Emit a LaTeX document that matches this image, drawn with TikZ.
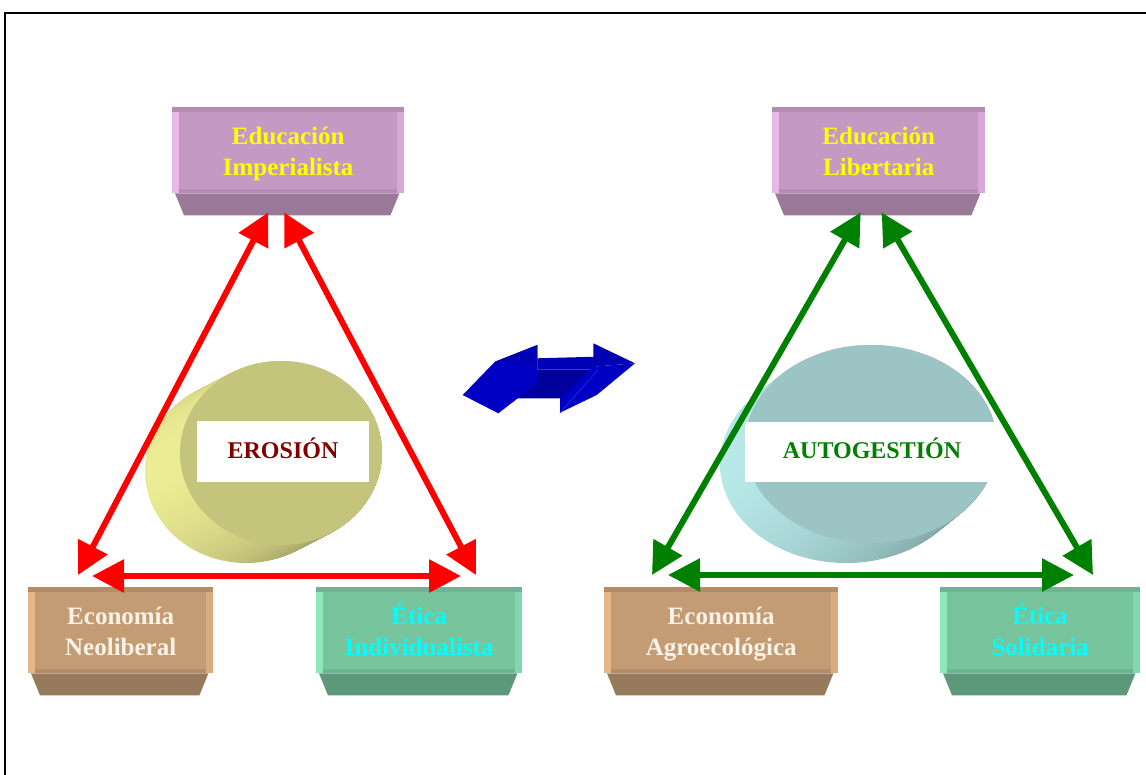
\documentclass[tikz,border=0pt]{standalone}
\usepackage{fontspec}
\setmainfont{Liberation Serif}
\usetikzlibrary{arrows.meta,calc}
\definecolor{purpF}{HTML}{C49AC4}\definecolor{purpT}{HTML}{B48CB4}
\definecolor{purpL}{HTML}{E8B8E8}\definecolor{purpR}{HTML}{D8A8D8}
\definecolor{purpB}{HTML}{9A7898}
\definecolor{brownF}{HTML}{C49C74}\definecolor{brownT}{HTML}{B48C68}
\definecolor{brownL}{HTML}{E6B888}\definecolor{brownR}{HTML}{D8AC80}
\definecolor{brownB}{HTML}{967A5C}
\definecolor{grnF}{HTML}{78C49C}\definecolor{grnT}{HTML}{6CB494}
\definecolor{grnL}{HTML}{90E8B8}\definecolor{grnR}{HTML}{80D8AC}
\definecolor{grnB}{HTML}{5C987A}
\definecolor{txtYellow}{HTML}{FFFF00}
\definecolor{txtWhite}{HTML}{FAF2E6}
\definecolor{txtCyan}{HTML}{00FFFF}
\definecolor{arrRed}{HTML}{FF0000}
\definecolor{arrGreen}{HTML}{008000}
\definecolor{eroRed}{HTML}{800000}
\definecolor{cylAF}{HTML}{C4C47C}\definecolor{cylAL}{HTML}{ECEC94}\definecolor{cylAD}{HTML}{8E8A58}
\definecolor{cylBF}{HTML}{9CC4C4}\definecolor{cylBL}{HTML}{B8E8E8}\definecolor{cylBD}{HTML}{789C9C}
\definecolor{blueMain}{HTML}{0000C4}\definecolor{blueDark}{HTML}{00009C}
\definecolor{blueMid}{HTML}{0000B4}\definecolor{blueLight}{HTML}{1C1CE8}
\newcommand\tdbox[7]{%
  \node[boxface, minimum width=#3pt, fill=#5F, text=#6, anchor=north west] (#1) at (#2,#4) {#7};
  \fill[#5B] ($(#1.south west)+(3,0)$) -- ($(#1.south east)+(-5,0)$) -- ($(#1.south east)+(-14,22)$) -- ($(#1.south west)+(12,22)$) -- cycle;
  \fill[#5T] (#1.north west) rectangle ($(#1.north east)+(0,5)$);
  \fill[#5T] ($(#1.south west)+(0,-4)$) rectangle (#1.south east);
  \fill[#5L] ($(#1.north west)+(0,5)$) rectangle ($(#1.south west)+(7,0)$);
  \fill[#5R] ($(#1.north east)+(-7,5)$) rectangle (#1.south east);
}
\begin{document}
\begin{tikzpicture}[x=1pt,y=-1pt,
  boxface/.style={rectangle, inner sep=0pt, minimum height=86pt,
    text height=56pt, text depth=6pt,
    font=\fontsize{25}{31}\selectfont\bfseries, align=center},
  labelbox/.style={rectangle, fill=white, inner sep=0pt,
    text height=19pt, text depth=6pt,
    font=\fontsize{24}{28}\selectfont\bfseries},
  redarr/.style={draw=arrRed, line width=6pt,
    arrows={Triangle[length=32pt,width=32pt]-Triangle[length=32pt,width=32pt]}},
  grnarr/.style={draw=arrGreen, line width=6pt,
    arrows={Triangle[length=32pt,width=32pt]-Triangle[length=32pt,width=32pt]}}]
\useasboundingbox (0,0) rectangle (1146,775);
% frame
\draw[line width=2pt, black] (5,775) -- (5,13) -- (1146,13);

% left cylinder
\foreach \i in {0,1,...,35}{
  \shade[left color=cylAL, right color=cylAD] ({246+\i},{471-\i*18/35}) ellipse [x radius=101pt, y radius=92pt];
}
\fill[cylAF] (281,453) ellipse [x radius=101pt, y radius=92pt];
\node[labelbox, minimum width=172pt, minimum height=61pt, text=eroRed] (ero) at (283,451.5) {EROSIÓN};

% right cylinder
\foreach \i in {0,1,...,25}{
  \shade[left color=cylBL, right color=cylBD] ({846+\i},{464-\i*20/25}) ellipse [x radius=126pt, y radius=99pt];
}
\fill[cylBF] (871,444) ellipse [x radius=126pt, y radius=99pt];
\node[labelbox, minimum width=255pt, minimum height=60pt, text=arrGreen] (auto) at (872,452) {AUTOGESTIÓN};

% boxes
\tdbox{eduI}{172}{232}{107}{purp}{txtYellow}{Educación\\Imperialista}
\tdbox{eduL}{772}{213}{107}{purp}{txtYellow}{Educación\\Libertaria}
\tdbox{ecoN}{28}{185}{587}{brown}{txtWhite}{Economía\\Neoliberal}
\tdbox{etiI}{316}{206}{587}{grn}{txtCyan}{Ética\\Individualista}
\tdbox{ecoA}{604}{234}{587}{brown}{txtWhite}{Economía\\Agroecológica}
\tdbox{etiS}{940}{200}{587}{grn}{txtCyan}{Ética\\Solidaria}

% red triangle
\draw[redarr] ($(ecoN.north west)+(50,-12)$) -- ($(eduI.south)+(-20,19)$);
\draw[redarr] ($(eduI.south)+(-4,19)$) -- ($(etiI.north west)+(160,-12)$);
\draw[redarr] ($(ecoN.north west)+(64,-11)$) -- ($(etiI.north west)+(145,-11)$);

% green triangle
\draw[grnarr] ($(ecoA.north west)+(48,-12)$) -- ($(eduL.south)+(-18,19)$);
\draw[grnarr] ($(eduL.south)+(3,19)$) -- ($(etiS.north west)+(153,-12)$);
\draw[grnarr] ($(ecoA.north west)+(64,-12)$) -- ($(etiS.north west)+(134,-12)$);

% blue double arrow
\fill[blueDark] (513.3,398.3) -- (537.3,369.3) -- (596.7,369.3) -- (560,398.3) -- cycle;
\fill[blueMid] (537.3,358.3) -- (596.7,356.7) -- (596.7,369.3) -- (537.3,369.3) -- cycle;
\fill[blueMain] (462.7,395) -- (495,361.7) -- (537.3,345) -- (537.3,383.3) -- (498.3,413.3) -- cycle;
\fill[blueMid] (495,361.7) -- (537.3,345) -- (537.3,366) -- cycle;
\fill[blueMain] (560,412.7) -- (560,398.3) -- (593.3,366.7) -- (635,363.3) -- (596.7,395) -- cycle;
\fill[blueMid] (593.3,343.3) -- (635,363.3) -- (593.3,366.7) -- cycle;
\draw[blueLight, line width=1pt] (560,412.7) -- (598,370);
\end{tikzpicture}
\end{document}
